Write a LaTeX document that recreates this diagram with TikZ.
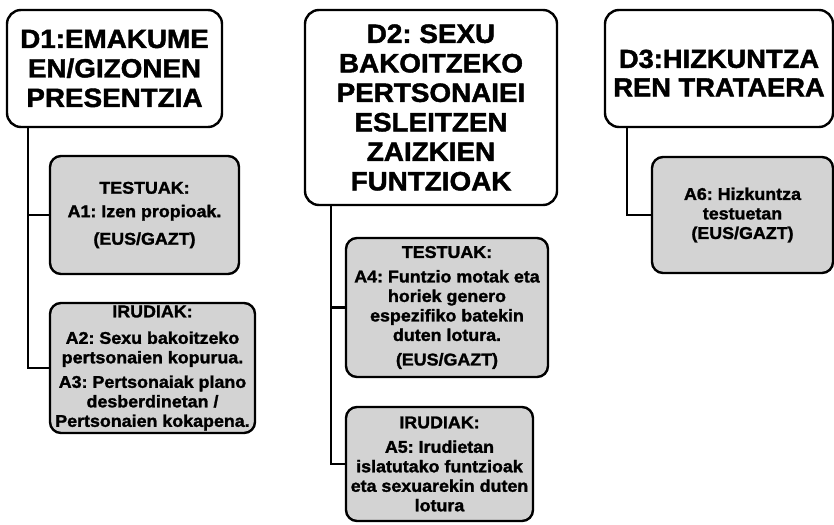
\documentclass[tikz,border=0pt]{standalone}
\usepackage{fontspec}
\setmainfont{Liberation Sans}[FakeStretch=1.05,BoldFeatures={FakeBold=1.6}]
\definecolor{boxgray}{RGB}{211,211,211}
\frenchspacing
\begin{document}
\frenchspacing
\begin{tikzpicture}[x=1pt,y=-1pt,
  dbox/.style={draw,line width=2.4pt,rounded corners=14pt,fill=white,inner sep=0pt,align=center,
    font=\frenchspacing\fontsize{26.5}{29.5}\selectfont\bfseries},
  dtext/.style={inner sep=0pt,align=center,font=\frenchspacing\fontsize{26}{28.5}\selectfont\bfseries},
  abox/.style={draw,line width=2.4pt,rounded corners=11pt,fill=boxgray,inner sep=0pt,align=center,
    font=\frenchspacing\fontsize{17}{19.5}\selectfont\bfseries},
  conn/.style={line width=2.4pt}]
\useasboundingbox (0,0) rectangle (834,524);

% top-level boxes
\node[dbox,minimum width=215pt,minimum height=117pt] (d1) at (114.5,68.5)
  {D1:EMAKUME\\EN/GIZONEN\\PRESENTZIA};
\node[dbox,minimum width=252pt,minimum height=195pt] (d2) at (431,107.5)
  {D2: SEXU\\BAKOITZEKO\\PERTSONAIEI\\ESLEITZEN\\ZAIZKIEN\\FUNTZIOAK};
\node[dbox,minimum width=228pt,minimum height=117pt] (d3) at (719,68.5) {};
\node[dtext] (d3t) at (719,73) {D3:HIZKUNTZA\\REN TRATAERA};

% sub boxes
\node[abox,minimum width=189pt,minimum height=118pt] (a1) at (144.5,215)
  {TESTUAK:\\[4pt]A1: Izen propioak.\\[8pt](EUS/GAZT)};
\node[abox,minimum width=205pt,minimum height=130pt] (a23) at (152.5,368)
  {IRUDIAK:\\[7pt]A2: Sexu bakoitzeko\\pertsonaien kopurua.\\[5pt]A3: Pertsonaiak plano\\desberdinetan /\\Pertsonaien kokapena.};
\node[abox,minimum width=202pt,minimum height=139pt] (a4) at (447,307.5)
  {TESTUAK:\\[5pt]A4: Funtzio motak eta\\horiek genero\\espezifiko batekin\\duten lotura.\\[5pt](EUS/GAZT)};
\node[abox,minimum width=187pt,minimum height=114pt] (a5) at (439.5,464)
  {IRUDIAK:\\[5pt]A5: Irudietan\\islatutako funtzioak\\eta sexuarekin duten\\lotura};
\node[abox,minimum width=181pt,minimum height=116pt] (a6) at (742.5,215)
  {A6: Hizkuntza\\testuetan\\(EUS/GAZT)};

% connectors
\coordinate (j1) at ([xshift=22pt]d1.south west);
\coordinate (j2) at ([xshift=27pt]d2.south west);
\coordinate (j3) at ([xshift=23pt]d3.south west);
\draw[conn] (j1) |- (a23.west);
\draw[conn] (a1.west) -- (a1.west -| j1);
\draw[conn] (j2) |- (a5.west);
\draw[conn] (a4.west) -- (a4.west -| j2);
\draw[conn] (j3) |- (a6.west);
\end{tikzpicture}
\end{document}
